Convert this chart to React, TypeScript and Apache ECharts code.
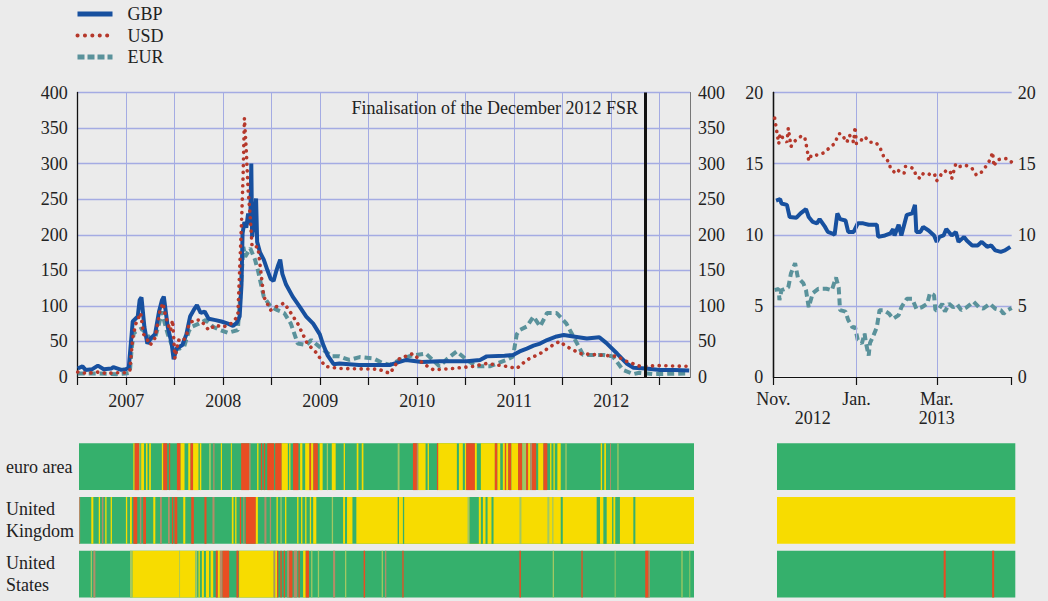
import React, { useEffect, useRef } from 'react';
import * as echarts from 'echarts';

// ---------- DATA ----------
const seriesNames = ['GBP', 'USD', 'EUR'];
const fsrDate = '2012-11-08';
const fsrLabel = 'Finalisation of the December 2012 FSR';
const mainYTicks = [0, 400, 50];
const rightYTicks = [0, 20, 5];
const rightMonthLabels: [number, string][] = [[0, 'Nov.'], [61, 'Jan.'], [120, 'Mar.']];
const rightYearLabels: [number, string][] = [[29, '2012'], [120, '2013']];
const stripRows = ['euro area', 'United\nKingdom', 'United\nStates'];

const gbpMain: [string, number][] = [
  ['2007-01-01', 12], ['2007-01-19', 15], ['2007-01-30', 10], ['2007-02-25', 11], ['2007-03-18', 16],
  ['2007-04-09', 11], ['2007-05-08', 12], ['2007-05-15', 14], ['2007-06-14', 10], ['2007-07-01', 11],
  ['2007-07-12', 13], ['2007-07-23', 60], ['2007-07-27', 78], ['2007-08-15', 85], ['2007-08-22', 108],
  ['2007-08-29', 112], ['2007-09-09', 70], ['2007-09-20', 47], ['2007-10-04', 55], ['2007-10-19', 60],
  ['2007-11-03', 92], ['2007-11-14', 108], ['2007-11-21', 113], ['2007-12-06', 70], ['2007-12-20', 48],
  ['2007-12-28', 25], ['2008-01-08', 40], ['2008-01-30', 45], ['2008-02-14', 60], ['2008-02-28', 85],
  ['2008-03-14', 95], ['2008-03-25', 101], ['2008-04-08', 90], ['2008-04-23', 92], ['2008-05-08', 82],
  ['2008-06-03', 80], ['2008-06-25', 78], ['2008-07-20', 75], ['2008-08-08', 72], ['2008-08-22', 76],
  ['2008-09-02', 85], ['2008-09-09', 130], ['2008-09-13', 202], ['2008-09-20', 218], ['2008-09-27', 210],
  ['2008-10-04', 230], ['2008-10-12', 215], ['2008-10-16', 300], ['2008-10-19', 197], ['2008-10-27', 220],
  ['2008-11-03', 251], ['2008-11-07', 190], ['2008-11-18', 175], ['2008-12-02', 165], ['2008-12-16', 150],
  ['2008-12-28', 138], ['2009-01-08', 135], ['2009-01-19', 150], ['2009-01-26', 158], ['2009-02-02', 165],
  ['2009-02-10', 145], ['2009-02-24', 130], ['2009-03-21', 113], ['2009-04-16', 99], ['2009-05-11', 85],
  ['2009-06-06', 75], ['2009-07-01', 60], ['2009-07-12', 47], ['2009-07-31', 30], ['2009-08-22', 18],
  ['2009-09-13', 19], ['2009-11-25', 17], ['2010-03-22', 17], ['2010-05-22', 24], ['2010-07-20', 21],
  ['2010-09-24', 22], ['2011-01-05', 22], ['2011-02-24', 24], ['2011-03-21', 29], ['2011-05-27', 30],
  ['2011-06-28', 31], ['2011-07-23', 36], ['2011-08-19', 40], ['2011-09-13', 44], ['2011-10-08', 47],
  ['2011-11-03', 52], ['2011-12-09', 57], ['2012-01-05', 59], ['2012-02-10', 57], ['2012-04-01', 54],
  ['2012-05-18', 56], ['2012-06-13', 48], ['2012-07-24', 33], ['2012-08-29', 19], ['2012-09-24', 13],
  ['2012-11-10', 12], ['2013-01-01', 10], ['2013-02-25', 10], ['2013-04-22', 9],
];

const usdMain: [string, number][] = [
  ['2007-01-01', 7], ['2007-02-06', 5], ['2007-03-14', 7], ['2007-04-20', 5], ['2007-05-27', 6],
  ['2007-07-01', 6], ['2007-07-16', 9], ['2007-07-27', 55], ['2007-08-08', 75], ['2007-08-26', 90],
  ['2007-09-06', 60], ['2007-09-13', 57], ['2007-10-01', 45], ['2007-10-19', 55], ['2007-11-07', 94],
  ['2007-11-18', 104], ['2007-11-25', 90], ['2007-12-06', 75], ['2007-12-16', 65], ['2007-12-24', 80],
  ['2008-01-02', 26], ['2008-01-15', 52], ['2008-01-30', 50], ['2008-02-14', 57], ['2008-02-24', 75],
  ['2008-03-14', 80], ['2008-04-08', 80], ['2008-05-08', 66], ['2008-06-03', 73], ['2008-07-01', 70],
  ['2008-07-31', 75], ['2008-08-26', 85], ['2008-09-09', 216], ['2008-09-15', 282], ['2008-09-20', 364],
  ['2008-09-27', 319], ['2008-10-04', 263], ['2008-10-12', 225], ['2008-10-19', 183], ['2008-11-10', 183],
  ['2008-12-02', 113], ['2008-12-28', 94], ['2009-01-19', 99], ['2009-02-17', 104], ['2009-03-14', 90],
  ['2009-04-09', 75], ['2009-05-15', 47], ['2009-06-21', 33], ['2009-07-20', 15], ['2009-09-13', 12],
  ['2010-02-06', 11], ['2010-03-22', 5], ['2010-04-27', 26], ['2010-06-17', 33], ['2010-07-24', 19],
  ['2010-09-02', 10], ['2010-11-14', 12], ['2011-01-30', 15], ['2011-03-21', 19], ['2011-06-03', 15],
  ['2011-07-12', 12], ['2011-08-19', 24], ['2011-10-08', 33], ['2011-11-25', 45], ['2011-12-20', 50],
  ['2012-01-15', 43], ['2012-03-07', 33], ['2012-05-18', 31], ['2012-07-24', 29], ['2012-08-29', 22],
  ['2012-10-19', 15], ['2013-01-01', 16], ['2013-04-22', 15],
];

const eurMain: [string, number][] = [
  ['2007-01-01', 5], ['2007-03-14', 5], ['2007-05-27', 4], ['2007-07-01', 5], ['2007-07-16', 6],
  ['2007-07-23', 40], ['2007-07-31', 62], ['2007-08-19', 66], ['2007-08-29', 68], ['2007-09-13', 62],
  ['2007-10-01', 54], ['2007-10-19', 55], ['2007-11-03', 75], ['2007-11-14', 92], ['2007-11-25', 75],
  ['2007-12-06', 60], ['2007-12-28', 38], ['2008-01-19', 40], ['2008-02-06', 43], ['2008-02-24', 65],
  ['2008-03-07', 71], ['2008-04-01', 75], ['2008-04-27', 80], ['2008-05-27', 70], ['2008-06-21', 66],
  ['2008-07-20', 62], ['2008-08-26', 66], ['2008-09-06', 122], ['2008-09-16', 183], ['2008-09-23', 169],
  ['2008-10-12', 181], ['2008-10-30', 165], ['2008-11-10', 150], ['2008-12-02', 113], ['2008-12-28', 99],
  ['2009-01-23', 94], ['2009-02-17', 90], ['2009-03-14', 75], ['2009-04-09', 47], ['2009-05-11', 45],
  ['2009-05-30', 52], ['2009-07-08', 40], ['2009-08-15', 29], ['2009-09-13', 29], ['2009-10-20', 24],
  ['2009-11-28', 28], ['2010-01-19', 26], ['2010-02-20', 20], ['2010-03-22', 17], ['2010-04-27', 24],
  ['2010-06-10', 30], ['2010-08-04', 33], ['2010-09-24', 15], ['2010-10-25', 26], ['2010-11-28', 36],
  ['2011-01-05', 24], ['2011-02-10', 15], ['2011-04-01', 15], ['2011-06-03', 24],
  ['2011-06-28', 29], ['2011-07-12', 60], ['2011-07-23', 66], ['2011-08-19', 71], ['2011-09-13', 85],
  ['2011-10-08', 71], ['2011-11-03', 90], ['2011-12-09', 90], ['2012-01-15', 75], ['2012-02-10', 57],
  ['2012-03-18', 31], ['2012-06-03', 31], ['2012-07-08', 29], ['2012-08-15', 10], ['2012-09-24', 4],
  ['2012-10-16', 6], ['2012-12-06', 4], ['2013-04-22', 5],
];

// right panel: [days since 1 Nov 2012, value]
const gbpRight: [number, number][] = [
  [2, 12.4], [5, 12.5], [6, 12.2], [10, 12.1], [12, 11.25], [17, 11.2], [20, 11.5], [24, 11.8], [26, 11.25],
  [29, 10.9], [32, 10.8], [34, 11.1], [38, 10.55], [40, 10.2], [43, 10.1], [45, 10.0], [47, 11.5], [49, 11.1],
  [53, 11.0], [55, 10.2], [59, 10.2], [62, 10.8], [66, 10.8], [70, 10.7], [76, 10.7], [77, 9.85], [82, 9.95],
  [86, 10.1], [88, 10.4], [89, 9.95], [92, 10.7], [94, 9.95], [98, 11.4], [102, 11.5], [104, 12.1], [105, 10.2],
  [108, 10.2], [110, 10.55], [114, 10.3], [118, 9.95], [120, 9.5], [122, 9.85], [125, 9.95], [127, 10.4],
  [131, 9.95], [134, 10.2], [136, 9.5], [140, 9.85], [142, 9.6], [146, 9.25], [150, 9.25], [153, 9.5],
  [157, 9.15], [160, 9.25], [163, 8.9], [167, 8.8], [170, 8.9], [174, 9.15],
];
const usdRight: [number, number][] = [
  [1, 18.2], [2, 17.6], [4, 16.4], [5, 17.1], [7, 16.8], [10, 16.5], [11, 17.5], [13, 16.2], [15, 16.5],
  [17, 16.7], [20, 16.9], [23, 16.9], [25, 15.9], [26, 15.2], [28, 15.6], [33, 15.6], [38, 15.8], [42, 16.2],
  [45, 16.4], [48, 17.1], [50, 17.1], [54, 16.5], [56, 17], [59, 16.5], [60, 17.6], [61, 16.4], [64, 16.6],
  [67, 16.9], [71, 16.5], [75, 16.5], [78, 16.2], [81, 15.5], [85, 15.1], [86, 14.65], [90, 14.3], [92, 14.5],
  [96, 14.3], [97, 14.8], [99, 14.8], [103, 14.65], [105, 14.1], [108, 13.95], [110, 14.3], [114, 14.3],
  [116, 14.1], [119, 14.2], [120, 13.8], [123, 14.2], [126, 14.5], [128, 14.3], [130, 14.4], [131, 13.95],
  [134, 15], [137, 14.8], [141, 14.9], [146, 14.65], [149, 14.2], [152, 14.3], [156, 14.8], [159, 15.25],
  [161, 15.8], [162, 14.8], [164, 15.25], [168, 15.35], [172, 15.35], [175, 15.1],
];
const eurRight: [number, number][] = [
  [1, 6.1], [4, 6.2], [4.5, 5.4], [6, 6.1], [11, 6.3], [13, 7.3], [16, 8.0], [18, 7.0], [22, 6.6], [24, 6.1],
  [26, 4.9], [29, 5.9], [33, 6.2], [36, 6.2], [39, 6.2], [43, 6.1], [46, 7.0], [48, 6.3], [49, 4.7], [53, 4.6],
  [55, 4.0], [58, 3.5], [60, 3.5], [62, 2.6], [65, 2.35], [67, 3.05], [68, 2.4], [70, 1.5], [71, 2.4], [73, 2.8],
  [76, 3.5], [78, 4.7], [81, 4.7], [85, 4.45], [88, 4.1], [92, 4.35], [94, 4.9], [98, 5.5], [102, 5.5],
  [105, 4.8], [109, 4.9], [113, 5.15], [115, 5.9], [118, 5.75], [119, 4.7], [121, 4.7], [124, 5.15], [126, 4.6],
  [129, 5.15], [132, 4.9], [135, 5.1], [138, 4.7], [142, 4.9], [147, 5.3], [151, 4.9], [154, 4.8], [159, 5.15],
  [163, 4.8], [167, 4.7], [169, 4.45], [172, 4.7], [175, 4.85],
];

// regime strips: [start week, end week, state] (weeks since 1 Jan 2007); g green, y yellow, r red, m/l mixed
const stripWeeks = 330.4;
const euroStrip: [number, number, string][] = [
  [0, 330.4, 'g'], [29.2, 29.9, 'y'], [29.9, 32.4, 'r'], [32.4, 33, 'l'], [33.4, 34.9, 'y'], [36, 36.8, 'y'],
  [37.7, 38.6, 'y'], [44.5, 45.3, 'y'], [45.3, 47.4, 'r'], [48.3, 49, 'r'], [52.6, 54.6, 'r'], [54.6, 56.7, 'y'],
  [58.7, 59.9, 'y'], [59.9, 61.3, 'r'], [61.3, 64.2, 'y'], [64.9, 65.7, 'y'], [69.9, 70.8, 'l'], [72.1, 72.8, 'm'],
  [76.2, 76.8, 'y'], [81.6, 82.1, 'y'], [87.1, 91.4, 'r'], [91.4, 92.2, 'm'], [95.7, 96.4, 'y'], [97.7, 98.4, 'r'],
  [99.3, 100, 'r'], [101.1, 104.8, 'r'], [105.4, 108.9, 'r'], [108.9, 112.2, 'y'], [112.9, 113.6, 'y'],
  [115, 117.9, 'r'], [118.8, 120, 'y'], [121.5, 123.8, 'y'], [123.8, 124.7, 'r'], [124.7, 125.9, 'y'],
  [125.9, 128.3, 'r'], [129.3, 130.9, 'y'], [133.1, 133.8, 'l'], [135.8, 137.9, 'y'], [142.2, 142.9, 'y'],
  [149.2, 150.1, 'y'], [151.9, 152.8, 'y'], [171.2, 172.2, 'l'], [179.4, 181.5, 'r'], [181.5, 182.3, 'm'],
  [182.3, 186.2, 'y'], [187.3, 188, 'y'], [192.3, 193, 'r'], [193, 203, 'y'], [204.1, 206.2, 'y'],
  [207.3, 208, 'y'], [208, 212.7, 'r'], [212.7, 213.7, 'y'], [215.9, 223.4, 'y'], [223.4, 224.8, 'r'],
  [224.8, 226.3, 'y'], [227.7, 228.8, 'y'], [228.8, 229.5, 'r'], [229.5, 230.6, 'y'], [230.6, 232.3, 'r'],
  [232.3, 235.9, 'y'], [235.9, 238.1, 'r'], [238.1, 240.2, 'l'], [240.2, 241.3, 'r'], [241.3, 242.4, 'y'],
  [242.4, 243.4, 'm'], [243.4, 245.6, 'r'], [246.7, 249.5, 'y'], [249.5, 251.6, 'r'], [253.1, 253.8, 'y'],
  [254.9, 255.6, 'y'], [257, 258.8, 'y'], [261.3, 262, 'l'], [280.3, 281, 'y'], [282.2, 283.1, 'y'],
  [285.3, 285.8, 'm'], [289.2, 289.9, 'l'],
];
const ukStrip: [number, number, string][] = [
  [0, 330.4, 'g'], [0, 0.6, 'm'], [6.6, 7.7, 'y'], [10.6, 11.3, 'y'], [12.3, 13.1, 'm'], [14.1, 14.8, 'y'],
  [17, 17.7, 'y'], [25.2, 25.9, 'y'], [27.4, 28.4, 'y'], [29.2, 31.3, 'r'], [32.7, 33.5, 'm'], [34.5, 36, 'r'],
  [39.9, 41, 'y'], [43.5, 44.5, 'm'], [47.8, 48.8, 'm'], [49.9, 50.6, 'r'], [51.3, 52.8, 'r'], [56, 57.1, 'y'],
  [60.3, 61.7, 'r'], [67.4, 68.5, 'r'], [71.7, 72.8, 'm'], [82.1, 83, 'y'], [83.9, 84.6, 'y'], [86.4, 87.1, 'r'],
  [88.2, 88.9, 'm'], [89.6, 95, 'r'], [95, 96.1, 'y'], [99.6, 100.7, 'm'], [102.5, 103.2, 'm'],
  [106.1, 106.8, 'y'], [108.2, 108.9, 'l'], [110.7, 111.4, 'y'], [117.2, 117.9, 'y'], [119.3, 120, 'y'],
  [121.5, 122.2, 'y'], [124, 124.7, 'y'], [125.8, 127.5, 'y'], [135.8, 136.5, 'l'], [141.9, 142.9, 'y'],
  [144, 146.9, 'y'], [149, 330.4, 'y'], [171.2, 171.9, 'g'], [174, 174.7, 'g'], [208.7, 209.8, 'l'],
  [209.8, 214.8, 'g'], [215.9, 217, 'g'], [218.4, 219.5, 'g'], [221.6, 222.7, 'g'], [236.6, 237.7, 'l'],
  [251.6, 252.7, 'l'], [254.2, 254.9, 'l'], [258.8, 259.9, 'g'], [278.1, 279.9, 'g'], [281.7, 283.5, 'g'],
  [286.4, 287.1, 'g'], [288.1, 290.6, 'g'], [297.8, 298.9, 'g'],
];
const usStrip: [number, number, string][] = [
  [0, 330.4, 'g'], [6.3, 7, 'l'], [7.7, 8.8, 'm'], [27.4, 28.8, 'l'], [28.8, 62.4, 'y'], [53.8, 54.2, 'l'],
  [62.4, 63.5, 'l'], [64.2, 64.9, 'y'], [66, 67.1, 'y'], [68.2, 69.9, 'y'], [70.7, 72.1, 'y'], [73.5, 74.6, 'r'],
  [74.6, 75.7, 'y'], [75.7, 77.1, 'm'], [77.1, 80.7, 'r'], [84.6, 85.7, 'r'], [86, 104.6, 'y'],
  [104.6, 105.4, 'm'], [105.4, 106.4, 'y'], [106.4, 107.1, 'r'], [108.2, 108.9, 'r'], [110, 110.7, 'r'],
  [111.8, 112.9, 'm'], [112.9, 114.7, 'r'], [115.4, 117.2, 'm'], [117.9, 118.6, 'r'], [120.4, 121.8, 'y'],
  [121.8, 123.6, 'r'], [124.7, 125.4, 'l'], [128.3, 129, 'l'], [136.5, 137.6, 'm'], [142.9, 143.6, 'l'],
  [152.9, 153.7, 'r'], [162.6, 163.3, 'l'], [164.4, 165.1, 'm'], [173.7, 174.4, 'r'], [236.6, 237.4, 'r'],
  [254.5, 255.2, 'l'], [269.9, 270.6, 'r'], [287.8, 288.1, 'l'], [304.2, 306, 'r'], [306, 306.7, 'm'],
  [323.6, 324.3, 'l'], [327.9, 328.2, 'l'],
];
// right strips: days since 1 Nov 2012
const rightDays = 175;
const euroStripRight: [number, number, string][] = [[0, 175, 'g']];
const ukStripRight: [number, number, string][] = [[0, 175, 'y']];
const usStripRight: [number, number, string][] = [[0, 175, 'g'], [122.4, 123.9, 'r'], [158, 159.5, 'r']];

// ---------- STYLE ----------
const FONT = "'Liberation Serif', 'Times New Roman', serif";
const TXT = '#222222';
const BG = '#ebebeb';
const GRIDC = '#a4abe3';
const C_GBP = '#17509f';
const C_USD = '#b5382b';
const C_EUR = '#5a929b';
const STATE_KEYS = ['g', 'y', 'r', 'm', 'l'];
const STATE_COLORS = ['#35b06c', '#f7dc00', '#e84d22', '#b48c68', '#a2c862'];

function decYear(s: string): number {
  const [y, m, d] = s.split('-').map(Number);
  const a = Date.UTC(y, 0, 1);
  const b = Date.UTC(y + 1, 0, 1);
  return y + (Date.UTC(y, m - 1, d) - a) / (b - a);
}

const mainMaxYear = 2013.312;

function splitColors(n: number) {
  const arr = ['#ffffff'];
  for (let i = 1; i < n; i++) arr.push(GRIDC);
  return arr;
}

const lineStyles: Record<string, any> = {
  GBP: { color: C_GBP, width: 4, type: 'solid' },
  USD: { color: C_USD, width: 3.6, type: [0.1, 6.6], cap: 'round' },
  EUR: { color: C_EUR, width: 4, type: [7, 4], cap: 'butt' },
};
const legendLine: Record<string, any> = {
  GBP: { color: C_GBP, width: 5, type: 'solid' },
  USD: { color: C_USD, width: 4, type: [0.1, 7.3], cap: 'round' },
  EUR: { color: C_EUR, width: 5, type: [7, 3], cap: 'butt' },
};
const zOrder: Record<string, number> = { EUR: 3, GBP: 4, USD: 5 };

function stripData(rows: [number, number, string][][]) {
  const out: number[][] = [];
  rows.forEach((segs, r) => {
    segs.forEach(([s, e, k]) => out.push([s, e, r, STATE_KEYS.indexOf(k)]));
  });
  return out;
}

const stripRender = (params: any, api: any) => {
  const s = api.value(0);
  const e = api.value(1);
  const row = api.value(2);
  const c = api.value(3);
  const p0 = api.coord([s, row]);
  const p1 = api.coord([e, row]);
  const bh = api.size([0, 1])[1] * 0.872;
  return {
    type: 'rect',
    shape: { x: p0[0], y: p0[1] - bh / 2, width: Math.max(p1[0] - p0[0], 0.9), height: bh },
    style: { fill: STATE_COLORS[c] },
  };
};

function buildOption() {
  const mainData: Record<string, [string, number][]> = { GBP: gbpMain, USD: usdMain, EUR: eurMain };
  const rightData: Record<string, [number, number][]> = { GBP: gbpRight, USD: usdRight, EUR: eurRight };
  const fsrX = decYear(fsrDate);

  const series: any[] = [];
  seriesNames.forEach((name) => {
    const s: any = {
      name,
      type: 'line',
      xAxisIndex: 0,
      yAxisIndex: 0,
      data: mainData[name].map(([d, v]) => [decYear(d), v]),
      showSymbol: false,
      symbol: 'none',
      lineStyle: lineStyles[name],
      itemStyle: { color: lineStyles[name].color },
      z: zOrder[name],
    };
    if (name === 'GBP') {
      s.markLine = {
        silent: true,
        symbol: 'none',
        label: { show: false },
        lineStyle: { color: '#111111', width: 3, type: 'solid' },
        data: [{ xAxis: fsrX }],
        z: 10,
      };
      s.markPoint = {
        symbol: 'circle',
        symbolSize: 1,
        itemStyle: { color: 'rgba(0,0,0,0)' },
        label: {
          show: true,
          position: 'left',
          distance: 7,
          formatter: fsrLabel,
          color: TXT,
          fontSize: 18,
          fontFamily: FONT,
        },
        data: [{ coord: [fsrX, 378] }],
      };
    }
    series.push(s);
  });
  seriesNames.forEach((name) => {
    series.push({
      name,
      type: 'line',
      xAxisIndex: 1,
      yAxisIndex: 2,
      data: rightData[name],
      showSymbol: false,
      symbol: 'none',
      lineStyle: lineStyles[name],
      itemStyle: { color: lineStyles[name].color },
      z: zOrder[name],
    });
  });
  series.push({
    name: 'grid-right',
    type: 'line',
    xAxisIndex: 1,
    yAxisIndex: 2,
    data: [],
    z: 1,
    markLine: {
      silent: true,
      symbol: 'none',
      label: { show: false },
      lineStyle: { color: GRIDC, width: 1, type: 'solid' },
      data: [{ xAxis: rightMonthLabels[1][0] }, { xAxis: rightMonthLabels[2][0] }],
    },
  });
  series.push({
    name: 'strips-left',
    type: 'custom',
    xAxisIndex: 3,
    yAxisIndex: 4,
    renderItem: stripRender,
    encode: { x: [0, 1], y: 2 },
    data: stripData([euroStrip, ukStrip, usStrip]),
    silent: true,
  });
  series.push({
    name: 'strips-right',
    type: 'custom',
    xAxisIndex: 4,
    yAxisIndex: 5,
    renderItem: stripRender,
    encode: { x: [0, 1], y: 2 },
    data: stripData([euroStripRight, ukStripRight, usStripRight]),
    silent: true,
  });

  const labelBase = { color: TXT, fontSize: 18, fontFamily: FONT };
  const monthMap: Record<number, string> = {};
  rightMonthLabels.forEach(([d, t]) => (monthMap[d] = t));
  const yearMap: Record<number, string> = {};
  rightYearLabels.forEach(([d, t]) => (yearMap[d] = t));

  return {
    animation: false,
    backgroundColor: BG,
    textStyle: { fontFamily: FONT },
    legend: {
      data: seriesNames.map((n) => ({
        name: n,
        lineStyle: legendLine[n],
        itemStyle: { color: 'rgba(0,0,0,0)', borderWidth: 0, opacity: 0 },
      })),
      orient: 'vertical',
      left: 75,
      top: 5,
      padding: 0,
      itemWidth: 35,
      itemHeight: 12,
      itemGap: 3.5,
      itemStyle: { color: 'rgba(0,0,0,0)', borderWidth: 0, opacity: 0 },
      textStyle: { ...labelBase, lineHeight: 18, padding: [0, 0, 0, 10] },
      selectedMode: false,
    },
    grid: [
      { left: 77.7, top: 92.5, width: 612.3, height: 284.5 },
      { left: 773.3, top: 92.5, width: 238.4, height: 284.5 },
      { left: 79, top: 439.8, width: 615, height: 163.5 },
      { left: 777, top: 439.8, width: 238.3, height: 163.5 },
    ],
    xAxis: [
      {
        type: 'value',
        gridIndex: 0,
        position: 'bottom',
        min: 2007,
        max: mainMaxYear,
        interval: 0.5,
        offset: 2,
        axisLine: { show: true, lineStyle: { color: '#111111', width: 1 } },
        axisTick: { show: true, length: 8, lineStyle: { color: '#111111', width: 1.2 } },
        axisLabel: {
          ...labelBase,
          margin: 13,
          showMaxLabel: false,
          formatter: (v: number) => (Math.abs((v % 1) - 0.5) < 1e-6 ? String(Math.floor(v)) : ''),
        },
        splitLine: { show: true, lineStyle: { color: GRIDC, width: 1 } },
      },
      {
        type: 'value',
        gridIndex: 1,
        position: 'bottom',
        min: 0,
        max: rightDays,
        offset: 2,
        axisLine: { show: true, lineStyle: { color: '#111111', width: 1 } },
        axisTick: {
          show: true,
          length: 8,
          customValues: [0, 61, 120, rightDays],
          lineStyle: { color: '#111111', width: 1.2 },
        },
        axisLabel: {
          ...labelBase,
          lineHeight: 18,
          margin: 11,
          customValues: rightMonthLabels.map((d) => d[0]),
          formatter: (v: number) => monthMap[v] || '',
        },
        splitLine: { show: false },
      },
      {
        type: 'value',
        gridIndex: 1,
        position: 'bottom',
        min: 0,
        max: rightDays,
        offset: 2,
        axisLine: { show: false },
        axisTick: { show: false },
        axisLabel: {
          ...labelBase,
          lineHeight: 18,
          margin: 30,
          customValues: rightYearLabels.map((d) => d[0]),
          formatter: (v: number) => yearMap[v] || '',
        },
        splitLine: { show: false },
      },
      { type: 'value', gridIndex: 2, min: 0, max: stripWeeks, show: false },
      { type: 'value', gridIndex: 3, min: 0, max: rightDays, show: false },
    ],
    yAxis: [
      {
        type: 'value',
        gridIndex: 0,
        min: mainYTicks[0],
        max: mainYTicks[1],
        interval: mainYTicks[2],
        axisLine: { show: true, lineStyle: { color: '#111111', width: 1.3 } },
        axisTick: { show: false },
        axisLabel: { ...labelBase, margin: 10 },
        splitLine: { show: true, lineStyle: { color: splitColors(9), width: 1.3 } },
      },
      {
        type: 'value',
        gridIndex: 0,
        position: 'right',
        min: mainYTicks[0],
        max: mainYTicks[1],
        interval: mainYTicks[2],
        axisLine: { show: true, lineStyle: { color: '#777777', width: 1 } },
        axisTick: { show: false },
        axisLabel: { ...labelBase, margin: 8 },
        splitLine: { show: false },
      },
      {
        type: 'value',
        gridIndex: 1,
        min: rightYTicks[0],
        max: rightYTicks[1],
        interval: rightYTicks[2],
        axisLine: { show: true, lineStyle: { color: '#111111', width: 1.3 } },
        axisTick: { show: false },
        axisLabel: { ...labelBase, margin: 10 },
        splitLine: { show: true, lineStyle: { color: splitColors(5), width: 1.3 } },
      },
      {
        type: 'value',
        gridIndex: 1,
        position: 'right',
        min: rightYTicks[0],
        max: rightYTicks[1],
        interval: rightYTicks[2],
        axisLine: { show: true, lineStyle: { color: '#111111', width: 1.3 } },
        axisTick: { show: false },
        axisLabel: { ...labelBase, margin: 6 },
        splitLine: { show: false },
      },
      {
        type: 'category',
        gridIndex: 2,
        inverse: true,
        data: stripRows,
        axisLine: { show: false },
        axisTick: { show: false },
        axisLabel: { ...labelBase, align: 'left', margin: 73, lineHeight: 22 },
        splitLine: { show: false },
      },
      {
        type: 'category',
        gridIndex: 3,
        inverse: true,
        data: stripRows,
        show: false,
      },
    ],
    series,
  };
}

export default function App() {
  const ref = useRef<HTMLDivElement>(null);
  useEffect(() => {
    document.body.style.margin = '0';
    const chart = echarts.init(ref.current as HTMLDivElement, null, { renderer: 'svg' });
    chart.setOption(buildOption() as any);
    return () => chart.dispose();
  }, []);
  return (
    <div
      ref={ref}
      style={{ position: 'absolute', left: 0, top: 0, width: 1048, height: 601, background: BG }}
    />
  );
}
